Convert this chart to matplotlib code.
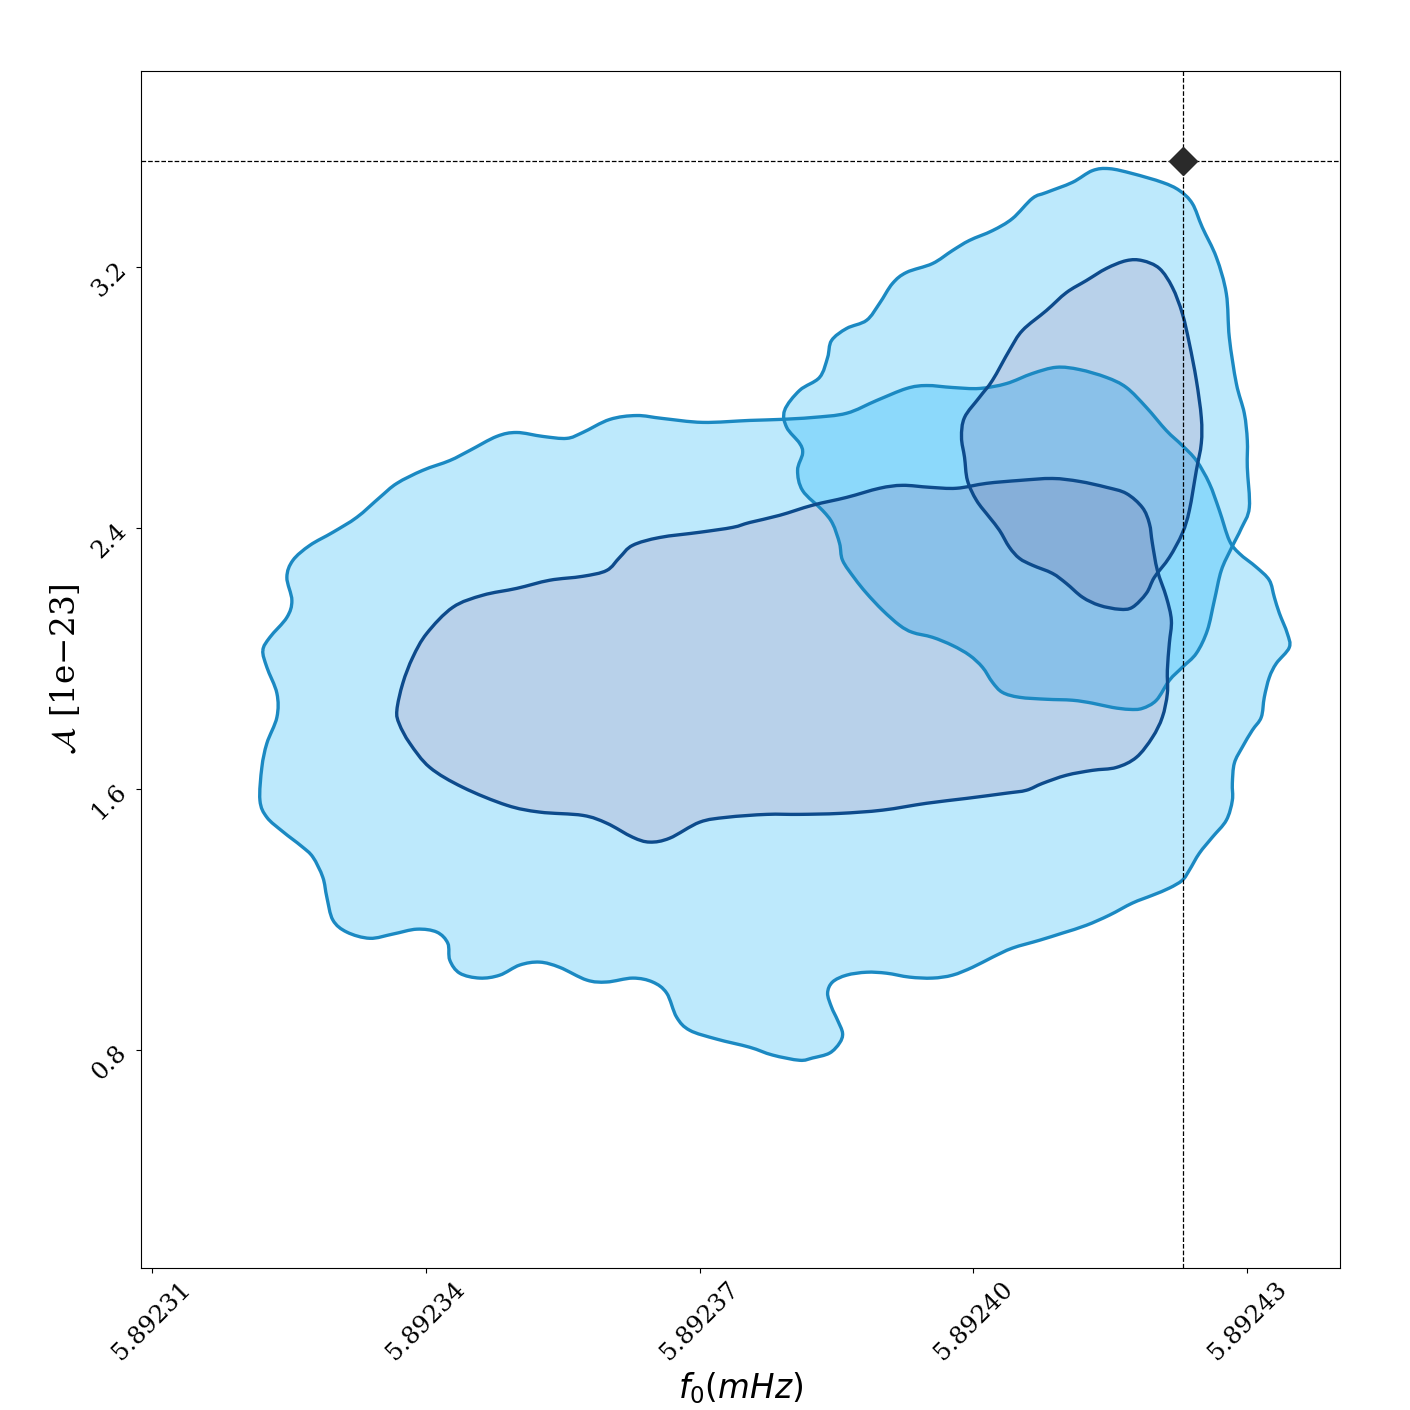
import numpy as np
import matplotlib
matplotlib.use("Agg")
import matplotlib.pyplot as plt
from matplotlib.patches import PathPatch
from matplotlib.path import Path

plt.rcParams['font.family'] = ['DejaVu Serif']

# f0 values are stored as offsets from F0_REF in units of 1e-5 mHz; amplitude in 1e-23
F0_REF = 5.89231
F0_UNIT = 1e-5

# Posterior A, outer credible contour
a_outer_df = [1.215, 1.292, 1.478, 1.533, 1.478, 1.544, 1.730, 1.982, 2.245, 2.496, 2.683, 2.967,
              3.263, 3.482, 3.777, 3.996, 4.281, 4.544, 4.719, 5.015, 5.310, 5.595, 6.033, 6.548,
              6.876, 7.237, 7.610, 7.938, 8.267, 8.486, 8.770, 9.066, 9.361, 9.646, 9.909, 10.161,
              10.456, 10.675, 10.894, 11.113, 11.288, 11.442, 11.584, 11.694, 11.803, 11.913, 12.099,
              12.241, 12.296, 12.351, 12.438, 12.460, 12.318, 12.241, 12.186, 12.153, 12.055, 11.945,
              11.858, 11.836, 11.836, 11.770, 11.617, 11.475, 11.365, 11.288, 11.146, 10.960, 10.741,
              10.489, 10.237, 9.975, 9.723, 9.427, 9.208, 8.989, 8.770, 8.551, 8.299, 8.048, 7.829,
              7.610, 7.456, 7.402, 7.445, 7.511, 7.566, 7.533, 7.423, 7.237, 7.095, 6.799, 6.548,
              6.186, 5.891, 5.748, 5.639, 5.485, 5.267, 4.982, 4.763, 4.467, 4.248, 4.029, 3.810,
              3.591, 3.372, 3.263, 3.241, 3.121, 2.902, 2.639, 2.387, 2.135, 1.982, 1.916, 1.872,
              1.763, 1.640, 1.434, 1.259, 1.183, 1.204, 1.259, 1.369, 1.369, 1.259]
a_outer_amp = [2.026, 2.066, 2.127, 2.179, 2.250, 2.302, 2.348, 2.388, 2.434, 2.495, 2.538, 2.578,
               2.608, 2.639, 2.682, 2.694, 2.682, 2.676, 2.694, 2.734, 2.746, 2.737, 2.725, 2.731,
               2.734, 2.740, 2.753, 2.792, 2.829, 2.838, 2.832, 2.829, 2.844, 2.875, 2.894, 2.887,
               2.863, 2.832, 2.771, 2.700, 2.654, 2.608, 2.538, 2.455, 2.363, 2.323, 2.281,
               2.241, 2.189, 2.140, 2.078, 2.035, 1.986, 1.943, 1.882, 1.821, 1.781, 1.729,
               1.680, 1.618, 1.566, 1.505, 1.453, 1.404, 1.352, 1.321, 1.297, 1.275, 1.251,
               1.214, 1.183, 1.159, 1.137, 1.113, 1.085, 1.054, 1.030, 1.021, 1.024, 1.036, 1.039,
               1.030, 1.009, 0.975, 0.932, 0.892, 0.852, 0.822, 0.791, 0.776, 0.769, 0.785, 0.809,
               0.834, 0.861, 0.901, 0.975, 1.009, 1.021, 1.009, 1.015, 1.054, 1.070, 1.061, 1.030,
               1.021, 1.036, 1.076, 1.128, 1.162, 1.171, 1.156, 1.143, 1.162, 1.199, 1.269, 1.330,
               1.392, 1.425, 1.470, 1.514, 1.566, 1.667, 1.741, 1.821, 1.894, 1.974]

# Posterior A, inner credible contour
a_inner_df = [2.683, 2.748, 2.858, 3.011, 3.296, 3.624, 3.996, 4.358, 4.719, 4.982, 5.124, 5.266,
              5.562, 6.000, 6.361, 6.548, 6.876, 7.237, 7.610, 7.971, 8.223, 8.518, 8.814, 9.142,
              9.504, 9.865, 10.161, 10.456, 10.675, 10.850, 10.927, 10.960, 11.015, 11.113, 11.168,
              11.146, 11.124, 11.124, 11.069, 10.960, 10.785, 10.566, 10.303, 10.018, 9.756, 9.580,
              9.361, 8.923, 8.485, 8.004, 7.533, 7.095, 6.734, 6.296, 6.000, 5.672, 5.453, 5.266,
              4.982, 4.719, 4.248, 3.887, 3.405, 3.044, 2.825, 2.710]
a_inner_amp = [1.842, 1.925, 2.005, 2.078, 2.158, 2.195, 2.216, 2.241, 2.253, 2.271, 2.311, 2.348,
               2.372, 2.388, 2.403, 2.418, 2.440, 2.471, 2.495, 2.523, 2.532, 2.526, 2.523, 2.538,
               2.547, 2.553, 2.544, 2.526, 2.507, 2.464, 2.415, 2.354, 2.271, 2.189, 2.118,
               2.048, 1.965, 1.894, 1.821, 1.759, 1.698, 1.667, 1.658, 1.643, 1.618, 1.597,
               1.588, 1.572, 1.557, 1.536, 1.526, 1.523, 1.523, 1.514, 1.499, 1.450, 1.438, 1.453,
               1.496, 1.520, 1.530, 1.551, 1.606, 1.667, 1.741, 1.800]

# Posterior B, outer credible contour
b_outer_df = [6.931, 7.095, 7.314, 7.402, 7.445, 7.610, 7.829, 7.971, 8.113, 8.267, 8.551, 8.770,
              8.956, 9.208, 9.427, 9.646, 9.799, 10.084, 10.303, 10.489, 10.741, 11.069, 11.256,
              11.398, 11.507, 11.661, 11.770, 11.803, 11.880, 11.967, 12.000, 12.000, 12.022,
              11.934, 11.825, 11.715, 11.639, 11.562, 11.442, 11.288, 11.146, 11.004, 10.850,
              10.708, 10.522, 10.303, 10.084, 9.799, 9.504, 9.318, 9.208, 9.099, 8.956, 8.770,
              8.551, 8.332, 8.190, 8.004, 7.829, 7.697, 7.566, 7.533, 7.456, 7.347, 7.128, 7.073,
              7.128, 7.095, 6.953]
b_outer_amp = [2.762, 2.823, 2.863, 2.924, 2.976, 3.013, 3.038, 3.090, 3.151, 3.185, 3.212, 3.252,
               3.283, 3.313, 3.350, 3.412, 3.430, 3.461, 3.497, 3.503, 3.488, 3.461, 3.436,
               3.396, 3.323, 3.231, 3.120, 2.985, 2.844, 2.753, 2.670, 2.587, 2.464,
               2.400, 2.339, 2.271, 2.179, 2.087, 2.017, 1.974, 1.934, 1.873, 1.848,
               1.845, 1.851, 1.864, 1.873, 1.876, 1.882, 1.897, 1.928, 1.974, 2.011, 2.041,
               2.066, 2.081, 2.103, 2.149, 2.201, 2.247, 2.302, 2.354, 2.415, 2.455, 2.516, 2.578,
               2.630, 2.661, 2.710]

# Posterior B, inner credible contour
b_inner_df = [8.869, 8.902, 9.066, 9.208, 9.394, 9.537, 9.799, 10.018, 10.237, 10.456, 10.675,
              10.850, 11.037, 11.179, 11.288, 11.365, 11.442, 11.496, 11.496, 11.442, 11.365,
              11.288, 11.146, 10.982, 10.894, 10.741, 10.599, 10.380, 10.194, 10.018, 9.865,
              9.646, 9.504, 9.394, 9.285, 9.175, 9.033, 8.934, 8.902]
b_inner_amp = [2.679, 2.740, 2.802, 2.854, 2.946, 3.007, 3.068, 3.123, 3.160, 3.197, 3.221,
               3.221, 3.197, 3.139, 3.059, 2.967, 2.854, 2.740, 2.661, 2.578, 2.455,
               2.385, 2.311, 2.250, 2.201, 2.158, 2.152, 2.164, 2.189, 2.231, 2.262,
               2.287, 2.308, 2.342, 2.394, 2.434, 2.486, 2.547, 2.618]

# injected (true) values
true_f0 = 5.8924230
true_amp = 3.528

x_ticks = [5.89231, 5.89234, 5.89237, 5.89240, 5.89243]
x_tick_labels = ['5.89231', '5.89234', '5.89237', '5.89240', '5.89243']
y_ticks = [0.8, 1.6, 2.4, 3.2]
y_tick_labels = ['0.8', '1.6', '2.4', '3.2']

LINE_OUT = '#1b89c2'
LINE_IN = '#0d4b8c'
F_OUT = '#bde9fc'
F_OUT2 = '#8cd9fb'
F_IN = '#b8d1ea'
F_IN_OUT = '#8ac1e9'
F_IN2 = '#86afd9'

fig = plt.figure(figsize=(14.1, 14.1), dpi=100)
ax = fig.add_axes([0.1, 0.1007, 0.85, 0.8493])
ax.set_xlim(5.8923088, 5.8924401)
ax.set_ylim(0.132, 3.804)


def xy(df, amp):
    return np.column_stack([F0_REF + np.asarray(df) * F0_UNIT, np.asarray(amp)])


def smooth_path(pts):
    """Closed path through the read contour points, drawn as Catmull-Rom cubic Bezier
    segments (built in axes-normalised coordinates to keep the curve isotropic)."""
    sx = 1.0 / (ax.get_xlim()[1] - ax.get_xlim()[0])
    sy = 1.0 / (ax.get_ylim()[1] - ax.get_ylim()[0])
    p = pts * np.array([sx, sy])
    n = len(p)
    verts = [p[0]]
    codes = [Path.MOVETO]
    for i in range(n):
        p0, p1, p2, p3 = p[i - 1], p[i], p[(i + 1) % n], p[(i + 2) % n]
        c1 = p1 + (p2 - p0) / 6.0
        c2 = p2 - (p3 - p1) / 6.0
        verts += [c1, c2, p2]
        codes += [Path.CURVE4] * 3
    verts = np.array(verts) / np.array([sx, sy])
    return Path(verts, codes)


A_out = smooth_path(xy(a_outer_df, a_outer_amp))
A_in = smooth_path(xy(a_inner_df, a_inner_amp))
B_out = smooth_path(xy(b_outer_df, b_outer_amp))
B_in = smooth_path(xy(b_inner_df, b_inner_amp))


def fill(path, color, clip=None, z=1):
    p = PathPatch(path, facecolor=color, edgecolor='none', zorder=z)
    ax.add_patch(p)
    if clip is not None:
        cp = PathPatch(clip, transform=ax.transData)
        p.set_clip_path(cp)
    return p


fill(A_out, F_OUT, z=1)
fill(B_out, F_OUT, z=1)
fill(B_out, F_OUT2, clip=A_out, z=1.1)
fill(A_in, F_IN, z=1.2)
fill(B_in, F_IN, z=1.2)
fill(A_in, F_IN_OUT, clip=B_out, z=1.3)
fill(B_in, F_IN_OUT, clip=A_out, z=1.3)
fill(A_in, F_IN2, clip=B_in, z=1.4)


def outline(path, color):
    ax.add_patch(PathPatch(path, facecolor='none', edgecolor=color, lw=2.4, zorder=2,
                           joinstyle='round'))


outline(A_out, LINE_OUT)
outline(B_out, LINE_OUT)
outline(A_in, LINE_IN)
outline(B_in, LINE_IN)

ax.axvline(true_f0, color='black', ls='--', lw=0.9, zorder=3)
ax.axhline(true_amp, color='black', ls='--', lw=0.9, zorder=3)
ax.plot([true_f0], [true_amp], marker='D', ms=14, color='#2a2a2a', zorder=4, ls='none')

ax.set_xticks(x_ticks)
ax.set_xticklabels(x_tick_labels, rotation=45, fontsize=17.5)
ax.set_yticks(y_ticks)
ax.set_yticklabels(y_tick_labels, rotation=45, fontsize=17.5)

ax.set_xlabel(r'$f_0(mHz)$', fontsize=23.5)
ax.set_ylabel(r'$\mathcal{A}$ [1e−23]', fontsize=23.5)

fig.savefig('out.png', dpi=100)
